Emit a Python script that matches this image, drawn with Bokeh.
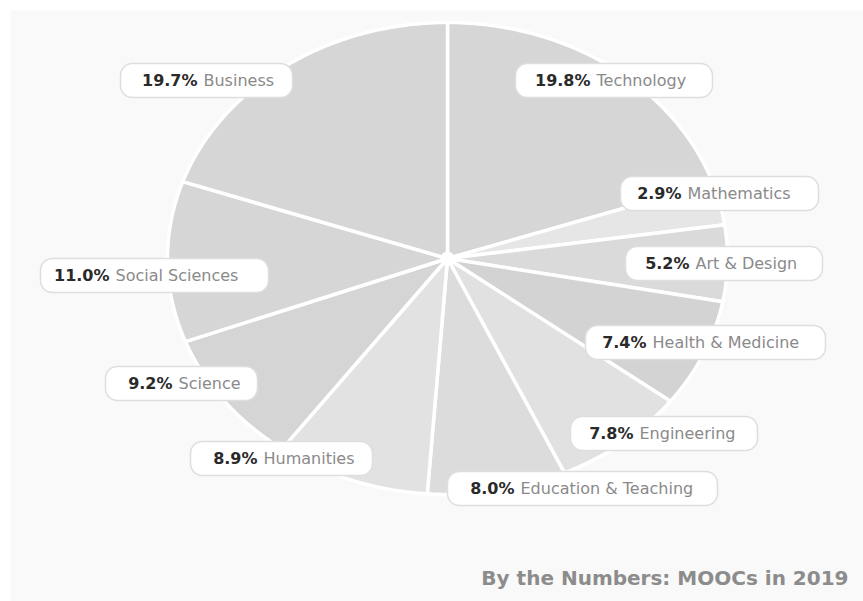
import numpy as np
from bokeh.plotting import figure
from bokeh.models import Range1d, ColumnDataSource
from bokeh.core.properties import value
from bokeh.embed import file_html
from bokeh.resources import INLINE

# ---- data ----
categories = ["Technology", "Mathematics", "Art & Design", "Health & Medicine",
              "Engineering", "Education & Teaching", "Humanities", "Science",
              "Social Sciences", "Business"]
shares = [19.8, 2.9, 5.2, 7.4, 7.8, 8.0, 8.9, 9.2, 11.0, 19.7]
title_text = "By the Numbers: MOOCs in 2019"

# ---- styles / layout ----
slice_colors = ["#d6d6d6", "#e6e6e6", "#dadada", "#d3d3d3", "#e1e1e1",
                "#dcdcdc", "#e2e2e2", "#d5d5d5", "#d6d6d6", "#d6d6d6"]
W, H = 863, 601
cx, cy, rx, ry = 447, 258, 280, 236
# label boxes (left, right, center y) and x where the percentage ends
box_left = [515, 620, 625, 585, 570, 447, 190, 105, 40, 120]
box_right = [712, 818, 822, 825, 757, 717, 372, 257, 268, 292]
box_cy = [80, 193, 263, 342, 433, 488, 458, 383, 275, 80]
split_x = [590, 681, 689, 646, 633, 514, 257, 172, 109, 197]

p = figure(width=W, height=H, output_backend="svg", toolbar_location=None,
           x_range=Range1d(0, W), y_range=Range1d(H, 0), min_border=0,
           background_fill_color="white", border_fill_color="white")
p.axis.visible = False
p.grid.visible = False
p.outline_line_color = None

# panel
p.quad(left=[10], right=[W], top=[10], bottom=[H], fill_color="#f9f9f9", line_color=None)

# slices
total = sum(shares)
cum = np.concatenate([[0], np.cumsum(shares)]) / total * 2 * np.pi
xs, ys = [], []
for i in range(len(shares)):
    th = np.linspace(cum[i], cum[i + 1], 80)
    xs.append([cx] + list(cx + rx * np.sin(th)) + [cx])
    ys.append([cy] + list(cy - ry * np.cos(th)) + [cy])
p.patches(xs=xs, ys=ys, fill_color=slice_colors, line_color="white", line_width=3.5,
          line_join="round")
p.scatter(x=[cx], y=[cy], size=14, marker="circle", fill_color="white", line_color=None)

# label boxes
box_src = ColumnDataSource(dict(
    left=box_left, right=box_right,
    top=[c - 17 for c in box_cy], bottom=[c + 17 for c in box_cy]))
p.quad(left="left", right="right", top="top", bottom="bottom", source=box_src,
       fill_color="white", line_color="#dedede", line_width=1.5, border_radius=12)

pct_src = ColumnDataSource(dict(x=split_x, y=box_cy, t=[f"{v:.1f}%" for v in shares]))
p.text(x="x", y="y", text="t", source=pct_src, text_font=value("DejaVu Sans"),
       text_font_style="bold", text_font_size="16px", text_color="#2a2a2a",
       text_align="right", text_baseline="middle")
name_src = ColumnDataSource(dict(x=[s + 6 for s in split_x], y=box_cy, t=categories))
p.text(x="x", y="y", text="t", source=name_src, text_font=value("DejaVu Sans"),
       text_font_size="16px", text_color="#8a8a8a",
       text_align="left", text_baseline="middle")

# title
p.text(x=[848], y=[577], text=[title_text], text_font=value("DejaVu Sans"),
       text_font_style="bold", text_font_size="20px", text_color="#8c8c8c",
       text_align="right", text_baseline="middle")

open("out.html", "w").write(file_html(p, INLINE))
